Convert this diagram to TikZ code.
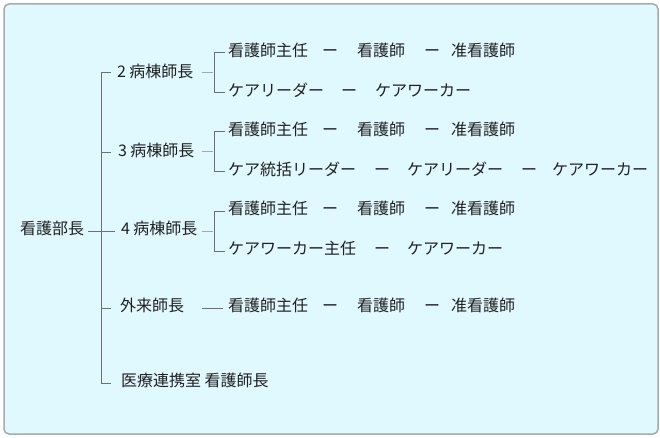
\documentclass[tikz,border=0pt]{standalone}
\usepackage{fontspec}
\setmainfont{Noto Sans CJK JP}
\definecolor{bg}{HTML}{E0F8FF}
\definecolor{frm}{HTML}{A4ACAC}
\definecolor{txt}{HTML}{202020}
\definecolor{trk}{HTML}{707070}
\definecolor{stm}{HTML}{A8A8A8}
\begin{document}
\begin{tikzpicture}[x=1pt,y=-1pt,
  lbl/.style={anchor=west,inner sep=0pt,outer sep=0pt,text=txt,
    font=\fontsize{16}{17}\selectfont,text height=0.88em,text depth=0.12em},
  trunk/.style={draw=trk,line width=1pt},
  stemline/.style={draw=stm,line width=1pt},
  frame/.style={draw=frm,line width=1.5pt,fill=bg,rounded corners=5pt}]
\useasboundingbox (0,0) rectangle (660,438);
\draw[frame] (4,4) rectangle (658,434);

% level 1 and 2
\node[lbl] (h) at (20,231) {看護部長};
\node[lbl] (n2) at (117,74) {2 病棟師長};
\node[lbl] (n3) at (118,153) {3 病棟師長};
\node[lbl] (n4) at (121,231) {4 病棟師長};
\node[lbl] (n5) at (120,308) {外来師長};
\node[lbl] (n6) at (121,383) {医療連携室 看護師長};

% trunk
\coordinate (ttop) at (101,73);
\coordinate (tbot) at (101,383);
\coordinate (t3) at (101,153);
\coordinate (t5) at (101,308);
\coordinate (hl) at (88,231);
\coordinate (hr) at (115,231);
\draw[trunk] (ttop) -- (tbot);
\draw[trunk] (hl) -- (hr);
\draw[trunk] (ttop) -- (111,73);
\draw[trunk] (t3) -- (111,153);
\draw[trunk] (t5) -- (111,308);
\draw[trunk] (tbot) -- (111,383);

% rows
\foreach \r/\y in {a/53,b/132,c/211,d/308}{
  \node[lbl] (\r1) at (228,\y) {看護師主任};
  \node[lbl] (\r2) at (322,\y) {ー};
  \node[lbl] (\r3) at (357,\y) {看護師};
  \node[lbl] (\r4) at (424,\y) {ー};
  \node[lbl] (\r5) at (451,\y) {准看護師};
}
\node[lbl] (e1) at (228,93) {ケアリーダー};
\node[lbl] (e2) at (341,93) {ー};
\node[lbl] (e3) at (375,93) {ケアワーカー};

\node[lbl] (f1) at (228,172) {ケア統括リーダー};
\node[lbl] (f2) at (374,172) {ー};
\node[lbl] (f3) at (407,172) {ケアリーダー};
\node[lbl] (f4) at (521,172) {ー};
\node[lbl] (f5) at (552,172) {ケアワーカー};

\node[lbl] (g1) at (228,251) {ケアワーカー主任};
\node[lbl] (g2) at (374,251) {ー};
\node[lbl] (g3) at (407,251) {ケアワーカー};

% brackets
\foreach \s/\t/\b in {73/53/93,152/132/172,231/211/251}{
  \draw[stemline] (202,\s) -- (213,\s);
  \draw[trunk] (225,\t) -- (214,\t) -- (214,\b) -- (225,\b);
}
\draw[trunk] (202,308) -- (223,308);
\end{tikzpicture}
\end{document}
